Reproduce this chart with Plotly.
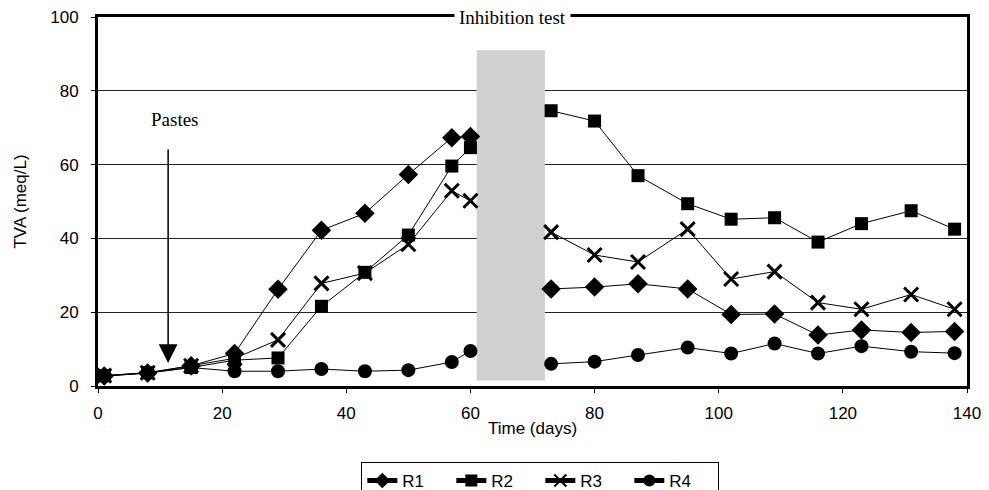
import plotly.graph_objects as go

days = [1, 8, 15, 22, 29, 36, 43, 50, 57, 60, 73, 80, 87, 95, 102, 109, 116, 123, 131, 138]
r1 = [2.7, 3.5, 5.5, 8.8, 26.2, 42.2, 46.8, 57.3, 67.3, 67.6, 26.3, 26.8, 27.7, 26.3, 19.4, 19.5, 13.8, 15.2, 14.5, 14.8]
r2 = [2.8, 3.6, 5.0, 7.0, 7.6, 21.6, 30.8, 40.9, 59.6, 64.6, 74.6, 71.8, 57.0, 49.4, 45.2, 45.6, 39.0, 44.0, 47.5, 42.5]
r3 = [2.8, 3.6, 5.5, 7.5, 12.5, 27.8, 30.6, 38.4, 52.9, 50.2, 41.7, 35.5, 33.6, 42.5, 29.0, 31.0, 22.6, 20.8, 24.8, 20.8]
r4 = [2.7, 3.5, 5.0, 4.0, 4.0, 4.6, 4.0, 4.3, 6.5, 9.5, 6.0, 6.6, 8.4, 10.4, 8.8, 11.5, 8.8, 10.8, 9.3, 8.9]
series_names = ["R1", "R2", "R3", "R4"]
x_ticks = [0, 20, 40, 60, 80, 100, 120, 140]
y_ticks = [0, 20, 40, 60, 80, 100]


def with_gap(xs, ys, gap=10):
    ox, oy = [], []
    for i, (a, b) in enumerate(zip(xs, ys)):
        if i > 0 and a - xs[i - 1] > gap:
            ox.append(None)
            oy.append(None)
        ox.append(a)
        oy.append(b)
    return ox, oy


markers = [
    dict(symbol="diamond", size=15, color="black"),
    dict(symbol="square", size=13, color="black"),
    dict(symbol="x-thin", size=14, color="black", line=dict(width=3, color="black")),
    dict(symbol="circle", size=14, color="black"),
]

fig = go.Figure()
for name, ys, mk in zip(series_names, [r1, r2, r3, r4], markers):
    gx, gy = with_gap(days, ys)
    fig.add_trace(go.Scatter(
        x=gx, y=gy, name=name, mode="lines+markers",
        line=dict(color="black", width=1), marker=mk, connectgaps=False,
    ))

# shaded inhibition period
fig.add_shape(type="rect", xref="x", yref="y", x0=61, x1=72, y0=1.5, y1=91,
              fillcolor="rgb(208,208,208)", line=dict(width=0), layer="between")

tick_font = dict(family="Liberation Sans, Arial", size=17, color="black")
title_font = dict(family="Liberation Sans, Arial", size=17, color="black")

fig.update_layout(
    width=981, height=502,
    margin=dict(l=90, r=22, t=9, b=124),
    paper_bgcolor="white", plot_bgcolor="white",
    showlegend=True,
    legend=dict(orientation="h", x=0.509, xanchor="center", y=-0.206, yanchor="top",
                bordercolor="black", borderwidth=1,
                font=dict(family="Liberation Sans, Arial", size=17, color="black"),
                entrywidth=44, entrywidthmode="pixels",
                itemsizing="constant"),
    xaxis=dict(range=[0, 140], tickvals=x_ticks, ticktext=[str(v) for v in x_ticks],
               showgrid=False, zeroline=False, automargin=False,
               showline=True, linecolor="black", linewidth=3, mirror=True,
               ticks="outside", ticklen=4, tickcolor="black",
               ticklabelstandoff=6, ticklabeloverflow="allow",
               tickfont=tick_font,
               title=dict(text="Time (days)", font=title_font, standoff=0)),
    yaxis=dict(range=[0, 100], tickvals=y_ticks, ticktext=[str(v) for v in y_ticks],
               showgrid=True, gridcolor="#222", gridwidth=1, zeroline=False, automargin=False,
               showline=True, linecolor="black", linewidth=3, mirror=True,
               ticks="outside", ticklen=4, tickcolor="black",
               ticklabelstandoff=9, ticklabeloverflow="allow",
               tickfont=tick_font,
               title=dict(text="TVA (meq/L)", font=title_font, standoff=20)),
)

fig.add_annotation(x=66.8, y=1.0, xref="x", yref="paper", yanchor="middle",
                   text="Inhibition test", showarrow=False, bgcolor="white", borderpad=4,
                   font=dict(family="Liberation Serif, Times New Roman", size=19, color="black"))
fig.add_annotation(x=12.4, y=72.3, xref="x", yref="y", text="Pastes", showarrow=False,
                   font=dict(family="Liberation Serif, Times New Roman", size=19, color="black"))
fig.add_annotation(x=11.3, y=6.2, xref="x", yref="y", ax=11.3, ay=64.5,
                   axref="x", ayref="y", text="", showarrow=True,
                   arrowhead=2, arrowsize=2.5, arrowwidth=1.5, arrowcolor="black")

fig.write_html("out.html")
